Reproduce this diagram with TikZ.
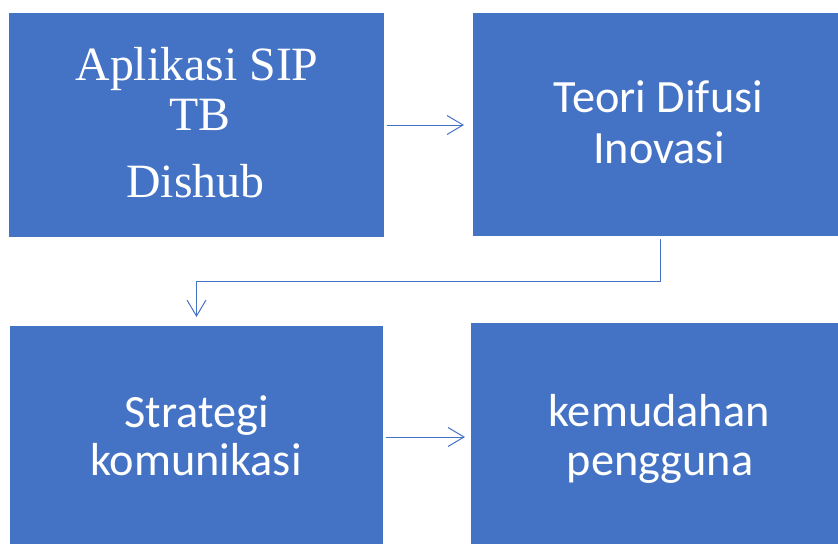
\documentclass[tikz,border=0pt]{standalone}
\usepackage{fontspec}
\newfontfamily\serifT{Liberation Serif}
\newfontfamily\carl{Carlito}
\usetikzlibrary{arrows.meta}
\definecolor{boxblue}{HTML}{4472C4}
\tikzset{
  box/.style={fill=boxblue, draw=none, inner sep=0pt, outer sep=0pt},
  serifline/.style={text=white, anchor=base, inner sep=0pt, font=\serifT\fontsize{47.8}{56}\selectfont},
  sansline/.style={text=white, anchor=base, inner sep=0pt, font=\carl\fontsize{46.3}{54}\selectfont},
  conn/.style={draw=boxblue, line width=1pt, -{Straight Barb[length=16pt,width=19pt,line width=1pt]}}
}
\begin{document}
\begin{tikzpicture}[x=1pt,y=1pt]
\useasboundingbox (0,0) rectangle (838,-544);
\node[box, minimum width=375pt, minimum height=224pt] (b1) at (196.5,-125) {};
\node[box, minimum width=365pt, minimum height=223pt] (b2) at (655.5,-124.5) {};
\node[box, minimum width=373pt, minimum height=218pt] (b3) at (196.5,-435) {};
\node[box, minimum width=367pt, minimum height=221pt] (b4) at (654.5,-433.5) {};

\node[serifline] (t1a) at (197,-80) {Aplikasi SIP};
\node[serifline] (t1b) at (200,-130) {TB};
\node[serifline] (t1c) at (195.5,-197) {Dishub};

\node[sansline] (t2a) at (658.5,-112) {Teori Difusi};
\node[sansline] (t2b) at (659,-163) {Inovasi};

\node[sansline] (t3a) at (196.7,-427) {Strategi};
\node[sansline] (t3b) at (196,-475) {komunikasi};

\node[sansline] (t4a) at (659,-426) {kemudahan};
\node[sansline] (t4b) at (660,-475) {pengguna};

\coordinate (c1) at (660,-281);
\draw[conn, shorten <=3pt, shorten >=9pt] (b1.east) -- (b1.east -| b2.west);
\draw[conn, shorten <=3pt, shorten >=9pt] ([xshift=4.5pt]b2.south) -- (c1) -| (b3.north);
\draw[conn, shorten <=3pt, shorten >=6pt] ([yshift=-2pt]b3.east) -- ([yshift=-2pt]b3.east -| b4.west);
\end{tikzpicture}
\end{document}
